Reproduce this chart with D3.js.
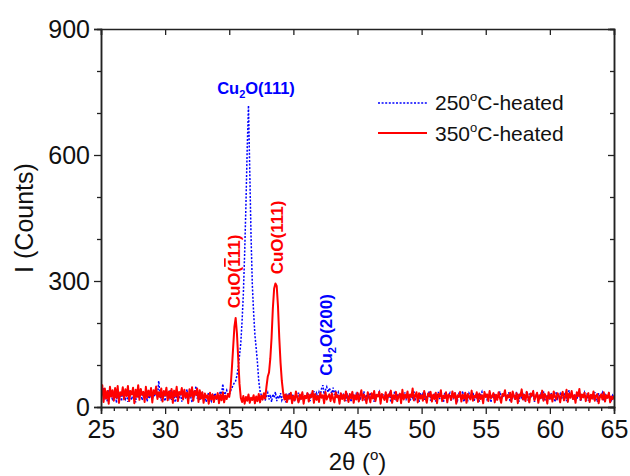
<!DOCTYPE html>
<html>
<head>
<meta charset="utf-8">
<script src="https://cdn.jsdelivr.net/npm/d3@7"></script>
<style>
  html, body { margin: 0; padding: 0; background: #fff; }
  svg { display: block; font-family: "Liberation Sans", Arial, sans-serif; }
</style>
</head>
<body>
<svg id="chart" width="630" height="476"></svg>
<script>
// ---- Data (2θ scan from 25° to 65°, step 0.1°) ----
const thetaStart = 25;
const thetaStep = 0.1;

// 250 °C-heated sample (blue, dotted)
const counts250 = [
  20,35,45,18,30,12,40,25,33,15,
  28,42,10,36,22,31,14,39,26,19,
  33,12,41,24,17,38,29,11,35,21,
  27,44,16,30,23,37,13,32,20,40,
  18,34,25,46,22,62,30,15,38,26,
  14,36,28,21,40,17,33,24,11,31,
  29,19,35,13,38,26,22,42,16,30,
  24,11,34,28,50,20,32,15,27,36,
  18,30,12,26,35,21,14,29,24,33,
  16,27,22,38,30,55,25,34,40,28,
  30,38,45,52,58,62,75,95,122,152,
  205,270,365,480,615,718,560,405,290,225,
  172,140,105,62,38,28,20,32,15,26,
  34,18,29,12,31,22,36,14,27,20,
  33,16,24,30,11,28,21,35,17,25,
  30,13,27,22,34,18,26,32,15,29,
  20,35,24,14,31,27,38,19,33,25,
  36,28,44,52,30,41,48,35,45,38,
  32,46,29,40,27,35,22,33,18,30,
  26,14,32,21,29,12,35,24,18,31,
  22,33,16,28,25,37,13,30,20,27,
  34,18,26,12,31,23,29,36,15,24,
  28,20,35,17,25,32,11,29,22,38,
  16,30,24,33,13,27,21,35,19,26,
  31,14,28,22,37,18,25,30,12,33,
  24,35,17,29,21,26,38,15,27,20,
  32,13,25,36,19,30,23,11,34,28,
  18,27,33,14,29,22,35,25,16,31,
  26,20,38,12,30,24,17,33,28,21,
  35,15,27,22,31,13,29,36,19,25,
  30,18,24,34,11,28,23,32,16,27,
  21,37,14,29,26,33,19,24,35,12,
  28,22,31,17,36,25,13,30,23,34,
  19,27,38,15,32,21,28,35,12,26,
  33,24,17,30,22,37,14,29,25,31,
  16,34,23,28,12,36,20,27,32,18,
  29,25,35,14,31,40,22,33,17,26,
  30,19,27,36,13,28,24,34,21,32,
  15,29,23,31,18,35,26,12,33,22,
  27,34,16,30,24,19,32,25,13,28,
  24
];

// 350 °C-heated sample (red, solid)
const counts350 = [
  30,52,12,44,20,38,8,48,25,40,
  15,45,22,50,10,35,28,47,18,42,
  26,50,14,38,30,46,9,41,24,52,
  17,43,29,36,12,48,22,39,27,45,
  11,40,31,49,19,35,24,44,13,38,
  28,46,16,37,21,43,10,39,26,48,
  14,36,30,45,18,41,23,34,9,42,
  25,47,15,38,29,44,12,40,20,35,
  10,32,22,28,8,34,18,30,12,26,
  20,33,9,29,16,35,11,27,19,31,
  24,45,90,140,190,212,175,115,55,22,
  12,26,8,24,15,30,10,22,17,28,
  9,25,14,31,11,27,18,33,20,48,
  72,82,115,165,235,282,294,288,240,165,
  105,62,35,18,30,12,28,20,34,9,
  26,16,37,22,11,30,19,35,8,27,
  21,33,13,29,24,38,10,31,17,26,
  12,34,22,28,9,36,18,25,30,14,
  32,20,11,35,23,27,8,33,19,29,
  15,37,24,12,31,21,36,10,28,18,
  34,13,27,40,16,30,22,9,35,25,
  11,33,20,38,14,29,25,36,8,31,
  23,17,35,12,30,26,39,10,28,19,
  36,14,25,32,9,41,18,29,22,37,
  12,30,24,44,16,27,35,11,33,20,
  28,15,38,22,10,32,26,36,13,29,
  19,34,9,31,24,40,14,27,21,35,
  11,30,26,17,37,22,33,8,28,24,
  36,13,29,20,34,10,31,25,18,39,
  15,27,23,35,12,32,19,28,9,36,
  24,30,14,38,21,26,33,11,29,17,
  35,22,10,31,27,40,16,28,23,34,
  12,37,25,19,33,9,30,26,42,18,
  29,14,36,23,11,32,27,38,16,25,
  34,10,28,21,39,15,31,24,8,35,
  20,30,13,37,25,18,33,27,11,29,
  36,16,24,41,12,32,22,38,19,28,
  10,35,26,43,17,30,23,34,14,27,
  33,12,29,20,37,15,26,31,9,24,
  30,18,35,13,28,22,34,11,25,19,
  27
];

const xTicks = [25, 30, 35, 40, 45, 50, 55, 60, 65];
const yTicks = [0, 300, 600, 900];
const xDomain = [25, 65];
const yDomain = [0, 900];

const seriesNames = ["250", "350"];

// ---- Layout ----
const svg = d3.select("#chart");
const mLeft = 101, mRight = 614, mTop = 29, mBottom = 407;

const x = d3.scaleLinear().domain(xDomain).range([mLeft, mRight]);
const y = d3.scaleLinear().domain(yDomain).range([mBottom, mTop]);

const axisColor = "#222";

svg.append("defs").append("clipPath").attr("id", "plotclip")
  .append("rect").attr("x", mLeft).attr("y", mTop)
  .attr("width", mRight - mLeft).attr("height", mBottom - mTop);

// ---- Data lines ----
const toPoints = arr => arr.map((v, i) => [thetaStart + i * thetaStep, v]);
const line = d3.line().x(d => x(d[0])).y(d => y(d[1]));

const plot = svg.append("g").attr("clip-path", "url(#plotclip)");
plot.append("path").datum(toPoints(counts250))
  .attr("d", line).attr("fill", "none")
  .attr("stroke", "#0000ff").attr("stroke-width", 1.5)
  .attr("stroke-dasharray", "2,1.6");
plot.append("path").datum(toPoints(counts350))
  .attr("d", line).attr("fill", "none")
  .attr("stroke", "#ff0000").attr("stroke-width", 2)
  .attr("stroke-linejoin", "round");

// ---- Axes ----
function styleAxis(g) {
  g.selectAll("path.domain").attr("stroke", axisColor).attr("stroke-width", 1.5);
  g.selectAll(".tick line").attr("stroke", axisColor).attr("stroke-width", 1.3);
  g.selectAll(".tick text").attr("fill", "#111")
    .style("font-family", '"Liberation Sans", Arial, sans-serif');
}

const xMinor = d3.range(25, 66, 1).filter(v => v % 5 !== 0);
const yMinor = d3.range(0, 901, 100).filter(v => v % 300 !== 0);

// bottom
const gxMinor = svg.append("g").attr("transform", `translate(0,${mBottom})`)
  .call(d3.axisBottom(x).tickValues(xMinor).tickSize(4).tickFormat(""));
styleAxis(gxMinor);
const gx = svg.append("g").attr("transform", `translate(0,${mBottom})`)
  .call(d3.axisBottom(x).tickValues(xTicks).tickSize(7).tickPadding(6).tickFormat(d3.format("d")));
styleAxis(gx);
gx.selectAll(".tick text").attr("font-size", 25).attr("dy", "0.71em");

// left
const gyMinor = svg.append("g").attr("transform", `translate(${mLeft},0)`)
  .call(d3.axisLeft(y).tickValues(yMinor).tickSize(4).tickFormat(""));
styleAxis(gyMinor);
const gy = svg.append("g").attr("transform", `translate(${mLeft},0)`)
  .call(d3.axisLeft(y).tickValues(yTicks).tickSize(7).tickPadding(4).tickFormat(d3.format("d")));
styleAxis(gy);
gy.selectAll(".tick text").attr("font-size", 25);

// top (inward)
const gt = svg.append("g").attr("transform", `translate(0,${mTop})`)
  .call(d3.axisBottom(x).tickValues(xTicks).tickSize(6).tickFormat(""));
styleAxis(gt);

// right (inward)
const grMinor = svg.append("g").attr("transform", `translate(${mRight},0)`)
  .call(d3.axisLeft(y).tickValues(yMinor).tickSize(4).tickFormat(""));
styleAxis(grMinor);
const gr = svg.append("g").attr("transform", `translate(${mRight},0)`)
  .call(d3.axisLeft(y).tickValues(yTicks).tickSize(6).tickFormat(""));
styleAxis(gr);

// ---- Axis titles ----
svg.append("text")
  .attr("transform", "translate(33,218) rotate(-90)")
  .attr("text-anchor", "middle").attr("font-size", 25).attr("fill", "#111")
  .text("I (Counts)");

const xTitle = svg.append("text")
  .attr("x", (mLeft + mRight) / 2).attr("y", 470)
  .attr("text-anchor", "middle").attr("font-size", 24).attr("fill", "#111");
xTitle.append("tspan").text("2θ (");
xTitle.append("tspan").attr("font-size", 15).attr("dy", -10).text("o");
xTitle.append("tspan").attr("dy", 10).text(")");

// ---- Legend ----
const legend = [
  { name: seriesNames[0], color: "#0000ff", dash: "2,1.6", w: 1.3, y: 103, ty: 110 },
  { name: seriesNames[1], color: "#ff0000", dash: null, w: 1.8, y: 133, ty: 140.5 }
];
legend.forEach(l => {
  svg.append("line").attr("x1", 378).attr("x2", 427)
    .attr("y1", l.y).attr("y2", l.y)
    .attr("stroke", l.color).attr("stroke-width", l.w)
    .attr("stroke-dasharray", l.dash);
  const t = svg.append("text").attr("x", 435).attr("y", l.ty)
    .attr("font-size", 21).attr("fill", "#111");
  t.append("tspan").text(l.name);
  t.append("tspan").attr("font-size", 13).attr("dy", -9).text("o");
  t.append("tspan").attr("dy", 9).text("C-heated");
});

// ---- Peak annotations ----
const bold = "bold";
// Cu2O(111) — horizontal
const a1 = svg.append("text").attr("x", 256).attr("y", 94)
  .attr("text-anchor", "middle").attr("font-size", 16.5).attr("font-weight", bold)
  .attr("fill", "#0000ff");
a1.append("tspan").text("Cu");
a1.append("tspan").attr("font-size", 11).attr("dy", 4).text("2");
a1.append("tspan").attr("dy", -4).text("O(111)");

// CuO(-111) — rotated
const a2 = svg.append("text").attr("transform", "translate(240,271.5) rotate(-90)")
  .attr("text-anchor", "middle").attr("font-size", 17).attr("font-weight", bold)
  .attr("fill", "#ff0000");
a2.append("tspan").text("CuO(");
a2.append("tspan").style("text-decoration", "overline").text("1");
a2.append("tspan").text("11)");

// CuO(111) — rotated
svg.append("text").attr("transform", "translate(283,237.5) rotate(-90)")
  .attr("text-anchor", "middle").attr("font-size", 17).attr("font-weight", bold)
  .attr("fill", "#ff0000").text("CuO(111)");

// Cu2O(200) — rotated
const a4 = svg.append("text").attr("transform", "translate(332,335) rotate(-90)")
  .attr("text-anchor", "middle").attr("font-size", 17).attr("font-weight", bold)
  .attr("fill", "#0000ff");
a4.append("tspan").text("Cu");
a4.append("tspan").attr("font-size", 11).attr("dy", 4).text("2");
a4.append("tspan").attr("dy", -4).text("O(200)");
</script>
</body>
</html>
